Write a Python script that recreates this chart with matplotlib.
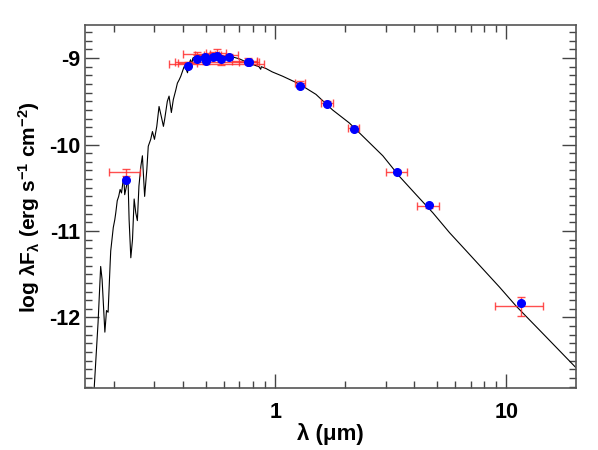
import numpy as np
import matplotlib
matplotlib.use('Agg')
import matplotlib.pyplot as plt
from matplotlib.ticker import FixedLocator, NullFormatter, MultipleLocator

plt.rcParams['font.family'] = ['Liberation Sans', 'DejaVu Sans']
plt.rcParams['font.weight'] = 'bold'
plt.rcParams['axes.unicode_minus'] = False
plt.rcParams['mathtext.fontset'] = 'custom'
plt.rcParams['mathtext.rm'] = 'Liberation Sans:bold'
plt.rcParams['mathtext.it'] = 'Liberation Sans:bold'
plt.rcParams['mathtext.bf'] = 'Liberation Sans:bold'

# model spectrum (micron, log lambda F_lambda)
spec_lam = [0.163, 0.171, 0.1755, 0.178, 0.183, 0.186, 0.189, 0.193, 0.194, 0.199,
            0.202, 0.204, 0.207, 0.210, 0.213, 0.216, 0.219, 0.221, 0.223, 0.227,
            0.2305, 0.233, 0.237, 0.241, 0.245, 0.249, 0.253, 0.257, 0.262, 0.266,
            0.268, 0.272, 0.278, 0.282, 0.289, 0.294, 0.300, 0.307, 0.314, 0.322,
            0.328, 0.332, 0.341, 0.347, 0.355, 0.362, 0.371, 0.377, 0.384, 0.390,
            0.397, 0.403, 0.410, 0.417, 0.424, 0.430, 0.435, 0.440, 0.460, 0.480,
            0.486, 0.490, 0.520, 0.550, 0.600, 0.656, 0.660, 0.700, 0.770, 0.850,
            0.865, 0.870, 0.910, 0.970, 1.076, 1.27, 1.50, 1.77, 2.09, 2.47,
            2.92, 3.45, 4.07, 4.81, 5.68, 6.71, 7.92, 9.35, 11.04, 14.2, 20.0]
spec_flux = [-13.0, -12.06, -11.41, -11.56, -12.17, -11.92, -11.94, -11.36, -11.23, -10.96,
             -10.87, -10.79, -10.65, -10.60, -10.52, -10.56, -10.44, -10.37, -10.58, -10.48,
             -10.40, -10.87, -11.31, -11.10, -10.63, -10.79, -10.88, -10.48, -10.25, -10.13,
             -10.29, -10.60, -10.29, -10.02, -9.94, -9.85, -9.94, -9.79, -9.56, -9.69,
             -9.79, -9.71, -9.50, -9.44, -9.63, -9.48, -9.37, -9.29, -9.25, -9.21,
             -9.15, -9.10, -9.12, -9.17, -9.06, -9.02, -9.07, -9.00, -8.97, -8.98,
             -9.02, -8.97, -8.97, -8.97, -8.98, -9.01, -8.99, -9.01, -9.06, -9.10,
             -9.13, -9.10, -9.12, -9.16, -9.21, -9.30, -9.42, -9.60, -9.75, -9.94,
             -10.13, -10.37, -10.58, -10.79, -11.02, -11.23, -11.44, -11.65, -11.87, -12.17, -12.58]

# photometry
band_lam = [0.225, 0.42, 0.458, 0.496, 0.50, 0.535, 0.559, 0.58, 0.628, 0.759, 0.77,
            1.28, 1.68, 2.19, 3.36, 4.61, 11.6]
band_lo = [0.190, 0.38, 0.40, 0.45, 0.369, 0.49, 0.50, 0.347, 0.57, 0.65, 0.70,
           1.22, 1.58, 2.06, 3.02, 4.10, 8.9]
band_hi = [0.260, 0.46, 0.52, 0.55, 0.835, 0.58, 0.61, 0.896, 0.69, 0.83, 0.85,
           1.35, 1.78, 2.30, 3.70, 5.13, 14.4]
obs_flux = [-10.32, -9.06, -8.95, -8.97, -9.05, -8.96, -8.94, -9.066, -8.97, -9.03, -9.04,
            -9.29, -9.52, -9.81, -10.315, -10.71, -11.87]
obs_err = [0.04, 0.02, 0.02, 0.02, 0.02, 0.03, 0.04, 0.02, 0.02, 0.03, 0.02,
           0.02, 0.02, 0.02, 0.02, 0.02, 0.11]
model_flux = [-10.41, -9.09, -9.01, -8.99, -9.03, -8.99, -8.98, -9.01, -8.99, -9.05, -9.05,
              -9.32, -9.535, -9.815, -10.315, -10.70, -11.83]

lam = np.array(band_lam)
xerr = [lam - np.array(band_lo), np.array(band_hi) - lam]

fig = plt.figure(figsize=(5.98, 4.5), dpi=100)
ax = fig.add_axes([0.142, 0.137, 0.821, 0.807])

ax.plot(spec_lam, spec_flux, color='black', lw=0.8, zorder=2)
ax.errorbar(band_lam, obs_flux, xerr=xerr, yerr=obs_err, fmt='none',
            ecolor='#ff3030', elinewidth=1.0, capsize=3, capthick=1.0, alpha=0.85, zorder=3)
ax.plot(band_lam, model_flux, 'o', color='blue', ms=5.5, mec='blue', zorder=4)

ax.set_xscale('log')
ax.set_xlim(0.15, 20)
ax.set_ylim(-12.82, -8.62)

ax.xaxis.set_major_locator(FixedLocator([1, 10]))
ax.set_xticklabels(['1', '10'])
ax.xaxis.set_minor_locator(FixedLocator([0.2, 0.3, 0.4, 0.5, 0.6, 0.7, 0.8, 0.9,
                                         2, 3, 4, 5, 6, 7, 8, 9]))
ax.xaxis.set_minor_formatter(NullFormatter())
ax.yaxis.set_major_locator(FixedLocator([-12, -11, -10, -9]))
ax.set_yticklabels(['-12', '-11', '-10', '-9'])
ax.yaxis.set_minor_locator(MultipleLocator(0.1))

ax.tick_params(which='both', direction='in', top=True, right=True, color='#444444')
ax.tick_params(which='major', length=10, width=1.0, labelsize=15.5)
ax.tick_params(axis='y', which='major', pad=3)
ax.tick_params(axis='x', which='major', pad=10)
ax.tick_params(which='minor', length=5, width=1.0)
for s in ax.spines.values():
    s.set_color('#555555')
    s.set_linewidth(1.2)

ax.set_xlabel('λ (μm)', fontsize=16, fontweight='bold')
ax.set_ylabel(r'log $\lambda$F$_\lambda$ (erg s$^{-1}$ cm$^{-2}$)', fontsize=15,
              fontweight='bold')
ax.xaxis.set_label_coords(0.5, -0.125, transform=ax.transAxes)
ax.yaxis.set_label_coords(-0.114, 0.5, transform=ax.transAxes)
ax.xaxis.label.set_va('center')
ax.yaxis.label.set_va('center')

fig.savefig('out.png', dpi=100)
